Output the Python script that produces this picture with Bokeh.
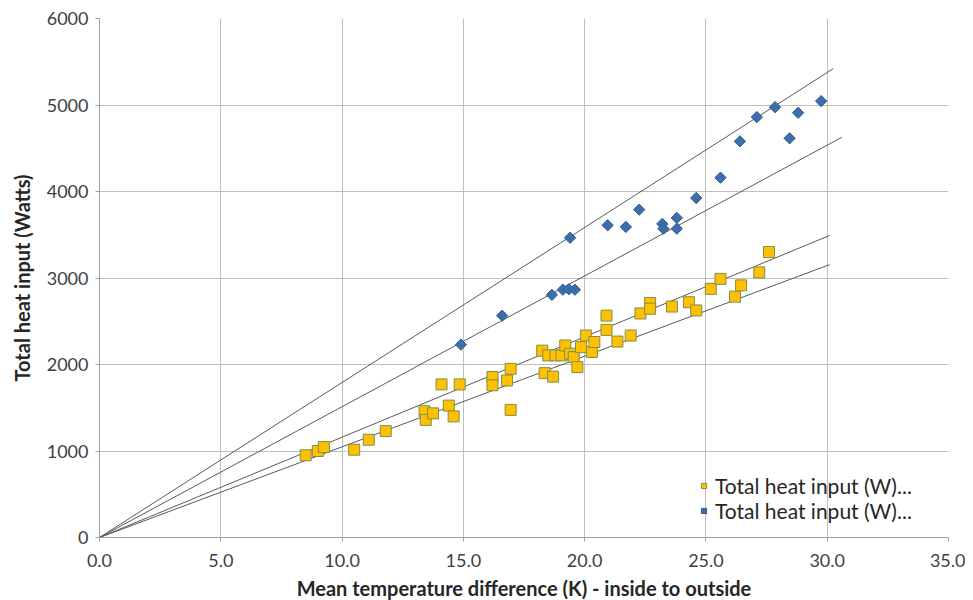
import math
from bokeh.plotting import figure
from bokeh.models import Legend, LegendItem, SingleIntervalTicker, NumeralTickFormatter
from bokeh.embed import file_html
from bokeh.resources import INLINE

# Series A (yellow squares)
yellow_x = [8.5, 9.0, 9.25, 10.5, 11.1, 11.8, 13.4, 13.45, 13.75, 14.1, 14.4, 14.6, 14.85,
            16.2, 16.2, 16.8, 16.95, 16.95, 18.25, 18.35, 18.7, 18.5, 18.8, 19.05, 19.2, 19.4,
            19.55, 19.7, 19.85, 20.05, 20.3, 20.4, 20.9, 20.9, 21.35, 21.9, 22.3, 22.7, 22.7,
            23.6, 24.3, 24.6, 25.2, 25.6, 26.2, 26.45, 27.2, 27.6]
yellow_y = [950, 1000, 1045, 1015, 1130, 1230, 1460, 1360, 1435, 1770, 1525, 1400, 1770,
            1855, 1760, 1815, 1950, 1475, 2160, 1900, 1860, 2105, 2105, 2105, 2220, 2125,
            2085, 1970, 2200, 2335, 2145, 2260, 2565, 2400, 2265, 2335, 2590, 2710, 2645,
            2670, 2720, 2625, 2875, 2990, 2785, 2915, 3065, 3300]

# Series B (blue diamonds)
blue_x = [14.9, 16.6, 18.65, 19.1, 19.35, 19.6, 19.4, 20.95, 21.7, 22.25, 23.2, 23.25,
          23.8, 23.8, 24.6, 25.6, 26.4, 27.1, 27.85, 28.45, 28.8, 29.75]
blue_y = [2230, 2565, 2805, 2865, 2870, 2865, 3465, 3610, 3590, 3790, 3625, 3570,
          3695, 3570, 3925, 4160, 4580, 4860, 4975, 4615, 4910, 5045]

# Trendlines through the origin: slopes (W/K) and end of x range
trend_slopes = [179.2, 151.2, 116.0, 104.8]
trend_x_end = [30.25, 30.6, 30.1, 30.1]

legend_labels = ["Total heat input (W)...", "Total heat input (W)..."]
x_title = "Mean temperature difference (K) - inside to outside"
y_title = "Total heat input (Watts)"

FONT = "Lato"

p = figure(width=965, height=592, output_backend="svg", toolbar_location=None,
           x_range=(0, 35), y_range=(0, 6000),
           min_border_left=99, min_border_top=18, min_border_right=17, min_border_bottom=55)
p.frame_width = 849
p.frame_height = 519
p.outline_line_color = None
p.background_fill_color = "white"

for s, xe in zip(trend_slopes, trend_x_end):
    p.line([0, xe], [0, s * xe], line_color="#5a5a5a", line_width=1)

ys = p.scatter(yellow_x, yellow_y, marker="square", size=11, fill_color="#FFC000",
               line_color="#7f8f4a", line_width=1)
bs = p.scatter(blue_x, blue_y, marker="square", angle=math.pi / 4, size=8,
               fill_color="#3c6ea8", line_color="#2f5d92", line_width=1)

p.xaxis.ticker = SingleIntervalTicker(interval=5, num_minor_ticks=0)
p.yaxis.ticker = SingleIntervalTicker(interval=1000, num_minor_ticks=0)
p.xaxis.formatter = NumeralTickFormatter(format="0.0")
for ax in (p.xaxis, p.yaxis):
    ax.axis_line_color = "#a0a0a0"
    ax.major_tick_line_color = "#a0a0a0"
    ax.major_tick_out = 4
    ax.major_tick_in = 0
    ax.minor_tick_line_color = None
    ax.major_label_text_font = FONT
    ax.major_label_text_font_size = "18px"
    ax.major_label_text_color = "#404040"
    ax.axis_label_text_font = FONT
    ax.axis_label_text_font_size = "20px"
    ax.axis_label_text_font_style = "bold"
    ax.axis_label_text_color = "#262626"
p.xaxis.axis_label = x_title
p.yaxis.axis_label = y_title
p.xaxis.major_label_standoff = 12
p.yaxis.major_label_standoff = 7
p.xaxis.axis_label_standoff = 6
p.yaxis.axis_label_standoff = 10

p.xgrid.grid_line_color = "#bfbfbf"
p.ygrid.grid_line_color = "#bfbfbf"

legend = Legend(items=[LegendItem(label=legend_labels[0], renderers=[ys]),
                       LegendItem(label=legend_labels[1], renderers=[bs])],
                location=(598, 14), background_fill_alpha=0, border_line_color=None,
                label_text_font=FONT, label_text_font_size="21px", label_text_color="#262626",
                glyph_width=13, glyph_height=13, label_standoff=5, spacing=0,
                padding=4, margin=0, label_height=23)
p.add_layout(legend, "center")

open("out.html", "w").write(file_html(p, INLINE))
